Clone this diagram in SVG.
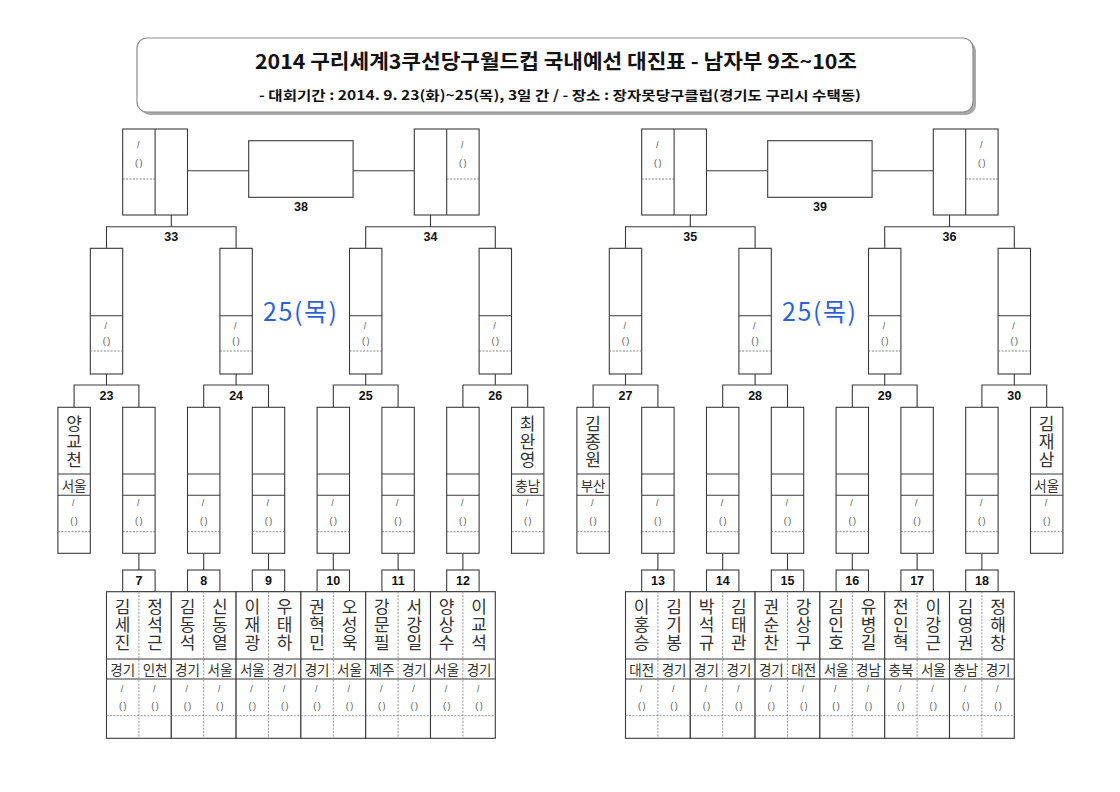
<svg xmlns="http://www.w3.org/2000/svg" width="1120" height="792" viewBox="0 0 1120 792">
<style>
.bx{fill:#fff;stroke:#3a3a3a;stroke-width:1.1}
.ln{fill:none;stroke:#3a3a3a;stroke-width:1.1}
.dl{fill:none;stroke:#666;stroke-width:0.8;stroke-dasharray:2 1.4}
.dv{fill:none;stroke:#777;stroke-width:0.8;stroke-dasharray:2 1.4}
.nm{font-family:"Noto Sans CJK KR","Noto Sans",sans-serif;font-size:17px;letter-spacing:1px;fill:#333;text-anchor:middle;dominant-baseline:central;writing-mode:vertical-rl}
.rg{font-family:"Noto Sans CJK KR","Noto Sans",sans-serif;font-size:13.5px;fill:#333;text-anchor:middle;dominant-baseline:central}
.sm{font-family:"Liberation Sans",sans-serif;font-size:9px;letter-spacing:1.5px;fill:#555;text-anchor:middle;dominant-baseline:central}
.lb{font-family:"Liberation Sans Narrow","Liberation Sans",sans-serif;font-weight:bold;font-size:12.5px;fill:#111;text-anchor:middle;dominant-baseline:central}
.day{font-family:"Noto Sans CJK KR","Noto Sans",sans-serif;font-size:25px;fill:#2d62d6;text-anchor:middle;dominant-baseline:central}
.ti{font-family:"Noto Sans CJK KR","Noto Sans",sans-serif;font-weight:bold;fill:#111;text-anchor:middle}
</style>
<rect width="1120" height="792" fill="#fff"/>

<g id="title">
<rect x="140" y="41" width="836" height="74" rx="10" fill="#a8a8a8"/>
<rect x="137" y="38" width="836" height="74" rx="10" fill="#fff" stroke="#8c8c8c" stroke-width="1.2"/>
<text class="ti" x="556" y="69" font-size="20" textLength="602" lengthAdjust="spacingAndGlyphs">2014 구리세계3쿠선당구월드컵 국내예선 대진표 - 남자부 9조~10조</text>
<text class="ti" x="560" y="100" font-size="13" textLength="602" lengthAdjust="spacingAndGlyphs">- 대회기간 : 2014. 9. 23(화)~25(목), 3일 간 / - 장소 : 장자못당구클럽(경기도 구리시 수택동)</text>
</g>

<g id="connectors">
<path class="ln" d="M187.5 170.7H248.7M353.1 170.7H414.3M706.5 170.7H767.7M872.1 170.7H933.3"/>
<path class="ln" d="M171.3 215V226.7M106.5 248.3V226.7H236.1V248.3M430.5 215V226.7M365.7 248.3V226.7H495.3V248.3"/>
<path class="ln" d="M690.3 215V226.7M625.5 248.3V226.7H755.1V248.3M949.5 215V226.7M884.7 248.3V226.7H1014.3V248.3"/>
<path class="ln" d="M106.5 374V385M74.1 407.3V385H138.9V407.3M236.1 374V385M203.7 407.3V385H268.5V407.3M365.7 374V385M333.3 407.3V385H398.1V407.3M495.3 374V385M462.9 407.3V385H527.7V407.3"/>
<path class="ln" d="M625.5 374V385M593.1 407.3V385H657.9V407.3M755.1 374V385M722.7 407.3V385H787.5V407.3M884.7 374V385M852.3 407.3V385H917.1V407.3M1014.3 374V385M981.9 407.3V385H1046.7V407.3"/>
<path class="ln" d="M138.9 553.3V570M203.7 553.3V570M268.5 553.3V570M333.3 553.3V570M398.1 553.3V570M462.9 553.3V570M657.9 553.3V570M722.7 553.3V570M787.5 553.3V570M852.3 553.3V570M917.1 553.3V570M981.9 553.3V570"/>
<text class="lb" x="300.9" y="206.5">38</text>
<text class="lb" x="819.9" y="206.5">39</text>
<text class="lb" x="171.3" y="237">33</text>
<text class="lb" x="430.5" y="237">34</text>
<text class="lb" x="690.3" y="237">35</text>
<text class="lb" x="949.5" y="237">36</text>
<text class="lb" x="106.5" y="396">23</text>
<text class="lb" x="236.1" y="396">24</text>
<text class="lb" x="365.7" y="396">25</text>
<text class="lb" x="495.3" y="396">26</text>
<text class="lb" x="625.5" y="396">27</text>
<text class="lb" x="755.1" y="396">28</text>
<text class="lb" x="884.7" y="396">29</text>
<text class="lb" x="1014.3" y="396">30</text>
</g>

<text class="day" x="300" y="310" textLength="74" lengthAdjust="spacing">25(목)</text>
<text class="day" x="819" y="310" textLength="74" lengthAdjust="spacing">25(목)</text>

<!-- finals -->
<g id="node-38"><rect class="bx" x="248.7" y="140.7" width="104.4" height="56.6"/></g>
<g id="node-39"><rect class="bx" x="767.7" y="140.7" width="104.4" height="56.6"/></g>

<!-- semi winners -->
<g id="node-33">
<rect class="bx" x="122.7" y="129" width="64.8" height="86"/>
<path class="ln" d="M155.1 129V215"/>
<path class="dl" d="M122.7 179H155.1"/>
<text class="sm" x="138.9" y="145">/</text><text class="sm" x="139.6" y="163">()</text>
</g>
<g id="node-34">
<rect class="bx" x="414.3" y="129" width="64.8" height="86"/>
<path class="ln" d="M446.7 129V215"/>
<path class="dl" d="M446.7 179H479.1"/>
<text class="sm" x="462.9" y="145">/</text><text class="sm" x="463.6" y="163">()</text>
</g>
<g id="node-35">
<rect class="bx" x="641.7" y="129" width="64.8" height="86"/>
<path class="ln" d="M674.1 129V215"/>
<path class="dl" d="M641.7 179H674.1"/>
<text class="sm" x="657.9" y="145">/</text><text class="sm" x="658.6" y="163">()</text>
</g>
<g id="node-36">
<rect class="bx" x="933.3" y="129" width="64.8" height="86"/>
<path class="ln" d="M965.7 129V215"/>
<path class="dl" d="M965.7 179H998.1"/>
<text class="sm" x="981.9" y="145">/</text><text class="sm" x="982.6" y="163">()</text>
</g>

<!-- round 2 boxes -->
<g id="node-23"><rect class="bx" x="90.3" y="248.3" width="32.4" height="125.7"/><path class="ln" d="M90.3 315.7H122.7"/><path class="dl" d="M90.3 351H122.7"/><text class="sm" x="106.5" y="325.7">/</text><text class="sm" x="107.2" y="341">()</text></g>
<g id="node-24"><rect class="bx" x="219.9" y="248.3" width="32.4" height="125.7"/><path class="ln" d="M219.9 315.7H252.3"/><path class="dl" d="M219.9 351H252.3"/><text class="sm" x="236.1" y="325.7">/</text><text class="sm" x="236.8" y="341">()</text></g>
<g id="node-25"><rect class="bx" x="349.5" y="248.3" width="32.4" height="125.7"/><path class="ln" d="M349.5 315.7H381.9"/><path class="dl" d="M349.5 351H381.9"/><text class="sm" x="365.7" y="325.7">/</text><text class="sm" x="366.4" y="341">()</text></g>
<g id="node-26"><rect class="bx" x="479.1" y="248.3" width="32.4" height="125.7"/><path class="ln" d="M479.1 315.7H511.5"/><path class="dl" d="M479.1 351H511.5"/><text class="sm" x="495.3" y="325.7">/</text><text class="sm" x="496" y="341">()</text></g>
<g id="node-27"><rect class="bx" x="609.3" y="248.3" width="32.4" height="125.7"/><path class="ln" d="M609.3 315.7H641.7"/><path class="dl" d="M609.3 351H641.7"/><text class="sm" x="625.5" y="325.7">/</text><text class="sm" x="626.2" y="341">()</text></g>
<g id="node-28"><rect class="bx" x="738.9" y="248.3" width="32.4" height="125.7"/><path class="ln" d="M738.9 315.7H771.3"/><path class="dl" d="M738.9 351H771.3"/><text class="sm" x="755.1" y="325.7">/</text><text class="sm" x="755.8" y="341">()</text></g>
<g id="node-29"><rect class="bx" x="868.5" y="248.3" width="32.4" height="125.7"/><path class="ln" d="M868.5 315.7H900.9"/><path class="dl" d="M868.5 351H900.9"/><text class="sm" x="884.7" y="325.7">/</text><text class="sm" x="885.4" y="341">()</text></g>
<g id="node-30"><rect class="bx" x="998.1" y="248.3" width="32.4" height="125.7"/><path class="ln" d="M998.1 315.7H1030.5"/><path class="dl" d="M998.1 351H1030.5"/><text class="sm" x="1014.3" y="325.7">/</text><text class="sm" x="1015" y="341">()</text></g>

<!-- round 3 boxes -->
<g id="seed-L1"><rect class="bx" x="57.9" y="407.3" width="32.4" height="146"/><path class="ln" d="M57.9 474H90.3M57.9 495.3H90.3"/><path class="dl" d="M57.9 531.7H90.3"/>
<text class="nm" x="74.1" y="442.5">양교천</text><text class="rg" x="74.1" y="484.7">서울</text>
<text class="sm" x="74.1" y="503">/</text><text class="sm" x="74.8" y="521">()</text></g>
<g id="r3-L2"><rect class="bx" x="122.7" y="407.3" width="32.4" height="146"/><path class="ln" d="M122.7 474H155.1M122.7 495.3H155.1"/><path class="dl" d="M122.7 531.7H155.1"/><text class="sm" x="138.9" y="503">/</text><text class="sm" x="139.6" y="521">()</text></g>
<g id="r3-L3"><rect class="bx" x="187.5" y="407.3" width="32.4" height="146"/><path class="ln" d="M187.5 474H219.9M187.5 495.3H219.9"/><path class="dl" d="M187.5 531.7H219.9"/><text class="sm" x="203.7" y="503">/</text><text class="sm" x="204.4" y="521">()</text></g>
<g id="r3-L4"><rect class="bx" x="252.3" y="407.3" width="32.4" height="146"/><path class="ln" d="M252.3 474H284.7M252.3 495.3H284.7"/><path class="dl" d="M252.3 531.7H284.7"/><text class="sm" x="268.5" y="503">/</text><text class="sm" x="269.2" y="521">()</text></g>
<g id="r3-L5"><rect class="bx" x="317.1" y="407.3" width="32.4" height="146"/><path class="ln" d="M317.1 474H349.5M317.1 495.3H349.5"/><path class="dl" d="M317.1 531.7H349.5"/><text class="sm" x="333.3" y="503">/</text><text class="sm" x="334" y="521">()</text></g>
<g id="r3-L6"><rect class="bx" x="381.9" y="407.3" width="32.4" height="146"/><path class="ln" d="M381.9 474H414.3M381.9 495.3H414.3"/><path class="dl" d="M381.9 531.7H414.3"/><text class="sm" x="398.1" y="503">/</text><text class="sm" x="398.8" y="521">()</text></g>
<g id="r3-L7"><rect class="bx" x="446.7" y="407.3" width="32.4" height="146"/><path class="ln" d="M446.7 474H479.1M446.7 495.3H479.1"/><path class="dl" d="M446.7 531.7H479.1"/><text class="sm" x="462.9" y="503">/</text><text class="sm" x="463.6" y="521">()</text></g>
<g id="seed-L8"><rect class="bx" x="511.5" y="407.3" width="32.4" height="146"/><path class="ln" d="M511.5 474H543.9M511.5 495.3H543.9"/><path class="dl" d="M511.5 531.7H543.9"/>
<text class="nm" x="527.7" y="442.5">최완영</text><text class="rg" x="527.7" y="484.7">충남</text>
<text class="sm" x="527.7" y="503">/</text><text class="sm" x="528.4" y="521">()</text></g>

<g id="seed-R1"><rect class="bx" x="576.9" y="407.3" width="32.4" height="146"/><path class="ln" d="M576.9 474H609.3M576.9 495.3H609.3"/><path class="dl" d="M576.9 531.7H609.3"/>
<text class="nm" x="593.1" y="442.5">김종원</text><text class="rg" x="593.1" y="484.7">부산</text>
<text class="sm" x="593.1" y="503">/</text><text class="sm" x="593.8" y="521">()</text></g>
<g id="r3-R2"><rect class="bx" x="641.7" y="407.3" width="32.4" height="146"/><path class="ln" d="M641.7 474H674.1M641.7 495.3H674.1"/><path class="dl" d="M641.7 531.7H674.1"/><text class="sm" x="657.9" y="503">/</text><text class="sm" x="658.6" y="521">()</text></g>
<g id="r3-R3"><rect class="bx" x="706.5" y="407.3" width="32.4" height="146"/><path class="ln" d="M706.5 474H738.9M706.5 495.3H738.9"/><path class="dl" d="M706.5 531.7H738.9"/><text class="sm" x="722.7" y="503">/</text><text class="sm" x="723.4" y="521">()</text></g>
<g id="r3-R4"><rect class="bx" x="771.3" y="407.3" width="32.4" height="146"/><path class="ln" d="M771.3 474H803.7M771.3 495.3H803.7"/><path class="dl" d="M771.3 531.7H803.7"/><text class="sm" x="787.5" y="503">/</text><text class="sm" x="788.2" y="521">()</text></g>
<g id="r3-R5"><rect class="bx" x="836.1" y="407.3" width="32.4" height="146"/><path class="ln" d="M836.1 474H868.5M836.1 495.3H868.5"/><path class="dl" d="M836.1 531.7H868.5"/><text class="sm" x="852.3" y="503">/</text><text class="sm" x="853" y="521">()</text></g>
<g id="r3-R6"><rect class="bx" x="900.9" y="407.3" width="32.4" height="146"/><path class="ln" d="M900.9 474H933.3M900.9 495.3H933.3"/><path class="dl" d="M900.9 531.7H933.3"/><text class="sm" x="917.1" y="503">/</text><text class="sm" x="917.8" y="521">()</text></g>
<g id="r3-R7"><rect class="bx" x="965.7" y="407.3" width="32.4" height="146"/><path class="ln" d="M965.7 474H998.1M965.7 495.3H998.1"/><path class="dl" d="M965.7 531.7H998.1"/><text class="sm" x="981.9" y="503">/</text><text class="sm" x="982.6" y="521">()</text></g>
<g id="seed-R8"><rect class="bx" x="1030.5" y="407.3" width="32.4" height="146"/><path class="ln" d="M1030.5 474H1062.9M1030.5 495.3H1062.9"/><path class="dl" d="M1030.5 531.7H1062.9"/>
<text class="nm" x="1046.7" y="442.5">김재삼</text><text class="rg" x="1046.7" y="484.7">서울</text>
<text class="sm" x="1046.7" y="503">/</text><text class="sm" x="1047.4" y="521">()</text></g>

<!-- first round matches -->
<g id="match-7">
<rect class="bx" x="122.7" y="570" width="32.4" height="21.7"/><text class="lb" x="138.9" y="581">7</text>
<rect class="bx" x="106.5" y="591.7" width="64.8" height="146.6"/>
<path class="ln" d="M106.5 659H171.3M106.5 679H171.3"/><path class="dv" d="M138.9 591.7V738.3M106.5 715.7H171.3"/>
<text class="nm" x="122.7" y="625.5">김세진</text><text class="nm" x="155.1" y="625.5">정석근</text>
<text class="rg" x="122.7" y="669">경기</text><text class="rg" x="155.1" y="669">인천</text>
<text class="sm" x="122.7" y="688.5">/</text><text class="sm" x="123.4" y="705.5">()</text><text class="sm" x="155.1" y="688.5">/</text><text class="sm" x="155.8" y="705.5">()</text>
</g>
<g id="match-8">
<rect class="bx" x="187.5" y="570" width="32.4" height="21.7"/><text class="lb" x="203.7" y="581">8</text>
<rect class="bx" x="171.3" y="591.7" width="64.8" height="146.6"/>
<path class="ln" d="M171.3 659H236.1M171.3 679H236.1"/><path class="dv" d="M203.7 591.7V738.3M171.3 715.7H236.1"/>
<text class="nm" x="187.5" y="625.5">김동석</text><text class="nm" x="219.9" y="625.5">신동열</text>
<text class="rg" x="187.5" y="669">경기</text><text class="rg" x="219.9" y="669">서울</text>
<text class="sm" x="187.5" y="688.5">/</text><text class="sm" x="188.2" y="705.5">()</text><text class="sm" x="219.9" y="688.5">/</text><text class="sm" x="220.6" y="705.5">()</text>
</g>
<g id="match-9">
<rect class="bx" x="252.3" y="570" width="32.4" height="21.7"/><text class="lb" x="268.5" y="581">9</text>
<rect class="bx" x="236.1" y="591.7" width="64.8" height="146.6"/>
<path class="ln" d="M236.1 659H300.9M236.1 679H300.9"/><path class="dv" d="M268.5 591.7V738.3M236.1 715.7H300.9"/>
<text class="nm" x="252.3" y="625.5">이재광</text><text class="nm" x="284.7" y="625.5">우태하</text>
<text class="rg" x="252.3" y="669">서울</text><text class="rg" x="284.7" y="669">경기</text>
<text class="sm" x="252.3" y="688.5">/</text><text class="sm" x="253" y="705.5">()</text><text class="sm" x="284.7" y="688.5">/</text><text class="sm" x="285.4" y="705.5">()</text>
</g>
<g id="match-10">
<rect class="bx" x="317.1" y="570" width="32.4" height="21.7"/><text class="lb" x="333.3" y="581">10</text>
<rect class="bx" x="300.9" y="591.7" width="64.8" height="146.6"/>
<path class="ln" d="M300.9 659H365.7M300.9 679H365.7"/><path class="dv" d="M333.3 591.7V738.3M300.9 715.7H365.7"/>
<text class="nm" x="317.1" y="625.5">권혁민</text><text class="nm" x="349.5" y="625.5">오성욱</text>
<text class="rg" x="317.1" y="669">경기</text><text class="rg" x="349.5" y="669">서울</text>
<text class="sm" x="317.1" y="688.5">/</text><text class="sm" x="317.8" y="705.5">()</text><text class="sm" x="349.5" y="688.5">/</text><text class="sm" x="350.2" y="705.5">()</text>
</g>
<g id="match-11">
<rect class="bx" x="381.9" y="570" width="32.4" height="21.7"/><text class="lb" x="398.1" y="581">11</text>
<rect class="bx" x="365.7" y="591.7" width="64.8" height="146.6"/>
<path class="ln" d="M365.7 659H430.5M365.7 679H430.5"/><path class="dv" d="M398.1 591.7V738.3M365.7 715.7H430.5"/>
<text class="nm" x="381.9" y="625.5">강문필</text><text class="nm" x="414.3" y="625.5">서강일</text>
<text class="rg" x="381.9" y="669">제주</text><text class="rg" x="414.3" y="669">경기</text>
<text class="sm" x="381.9" y="688.5">/</text><text class="sm" x="382.6" y="705.5">()</text><text class="sm" x="414.3" y="688.5">/</text><text class="sm" x="415" y="705.5">()</text>
</g>
<g id="match-12">
<rect class="bx" x="446.7" y="570" width="32.4" height="21.7"/><text class="lb" x="462.9" y="581">12</text>
<rect class="bx" x="430.5" y="591.7" width="64.8" height="146.6"/>
<path class="ln" d="M430.5 659H495.3M430.5 679H495.3"/><path class="dv" d="M462.9 591.7V738.3M430.5 715.7H495.3"/>
<text class="nm" x="446.7" y="625.5">양상수</text><text class="nm" x="479.1" y="625.5">이교석</text>
<text class="rg" x="446.7" y="669">서울</text><text class="rg" x="479.1" y="669">경기</text>
<text class="sm" x="446.7" y="688.5">/</text><text class="sm" x="447.4" y="705.5">()</text><text class="sm" x="479.1" y="688.5">/</text><text class="sm" x="479.8" y="705.5">()</text>
</g>

<g id="match-13">
<rect class="bx" x="641.7" y="570" width="32.4" height="21.7"/><text class="lb" x="657.9" y="581">13</text>
<rect class="bx" x="625.5" y="591.7" width="64.8" height="146.6"/>
<path class="ln" d="M625.5 659H690.3M625.5 679H690.3"/><path class="dv" d="M657.9 591.7V738.3M625.5 715.7H690.3"/>
<text class="nm" x="641.7" y="625.5">이홍승</text><text class="nm" x="674.1" y="625.5">김기봉</text>
<text class="rg" x="641.7" y="669">대전</text><text class="rg" x="674.1" y="669">경기</text>
<text class="sm" x="641.7" y="688.5">/</text><text class="sm" x="642.4" y="705.5">()</text><text class="sm" x="674.1" y="688.5">/</text><text class="sm" x="674.8" y="705.5">()</text>
</g>
<g id="match-14">
<rect class="bx" x="706.5" y="570" width="32.4" height="21.7"/><text class="lb" x="722.7" y="581">14</text>
<rect class="bx" x="690.3" y="591.7" width="64.8" height="146.6"/>
<path class="ln" d="M690.3 659H755.1M690.3 679H755.1"/><path class="dv" d="M722.7 591.7V738.3M690.3 715.7H755.1"/>
<text class="nm" x="706.5" y="625.5">박석규</text><text class="nm" x="738.9" y="625.5">김태관</text>
<text class="rg" x="706.5" y="669">경기</text><text class="rg" x="738.9" y="669">경기</text>
<text class="sm" x="706.5" y="688.5">/</text><text class="sm" x="707.2" y="705.5">()</text><text class="sm" x="738.9" y="688.5">/</text><text class="sm" x="739.6" y="705.5">()</text>
</g>
<g id="match-15">
<rect class="bx" x="771.3" y="570" width="32.4" height="21.7"/><text class="lb" x="787.5" y="581">15</text>
<rect class="bx" x="755.1" y="591.7" width="64.8" height="146.6"/>
<path class="ln" d="M755.1 659H819.9M755.1 679H819.9"/><path class="dv" d="M787.5 591.7V738.3M755.1 715.7H819.9"/>
<text class="nm" x="771.3" y="625.5">권순찬</text><text class="nm" x="803.7" y="625.5">강상구</text>
<text class="rg" x="771.3" y="669">경기</text><text class="rg" x="803.7" y="669">대전</text>
<text class="sm" x="771.3" y="688.5">/</text><text class="sm" x="772" y="705.5">()</text><text class="sm" x="803.7" y="688.5">/</text><text class="sm" x="804.4" y="705.5">()</text>
</g>
<g id="match-16">
<rect class="bx" x="836.1" y="570" width="32.4" height="21.7"/><text class="lb" x="852.3" y="581">16</text>
<rect class="bx" x="819.9" y="591.7" width="64.8" height="146.6"/>
<path class="ln" d="M819.9 659H884.7M819.9 679H884.7"/><path class="dv" d="M852.3 591.7V738.3M819.9 715.7H884.7"/>
<text class="nm" x="836.1" y="625.5">김인호</text><text class="nm" x="868.5" y="625.5">유병길</text>
<text class="rg" x="836.1" y="669">서울</text><text class="rg" x="868.5" y="669">경남</text>
<text class="sm" x="836.1" y="688.5">/</text><text class="sm" x="836.8" y="705.5">()</text><text class="sm" x="868.5" y="688.5">/</text><text class="sm" x="869.2" y="705.5">()</text>
</g>
<g id="match-17">
<rect class="bx" x="900.9" y="570" width="32.4" height="21.7"/><text class="lb" x="917.1" y="581">17</text>
<rect class="bx" x="884.7" y="591.7" width="64.8" height="146.6"/>
<path class="ln" d="M884.7 659H949.5M884.7 679H949.5"/><path class="dv" d="M917.1 591.7V738.3M884.7 715.7H949.5"/>
<text class="nm" x="900.9" y="625.5">전인혁</text><text class="nm" x="933.3" y="625.5">이강근</text>
<text class="rg" x="900.9" y="669">충북</text><text class="rg" x="933.3" y="669">서울</text>
<text class="sm" x="900.9" y="688.5">/</text><text class="sm" x="901.6" y="705.5">()</text><text class="sm" x="933.3" y="688.5">/</text><text class="sm" x="934" y="705.5">()</text>
</g>
<g id="match-18">
<rect class="bx" x="965.7" y="570" width="32.4" height="21.7"/><text class="lb" x="981.9" y="581">18</text>
<rect class="bx" x="949.5" y="591.7" width="64.8" height="146.6"/>
<path class="ln" d="M949.5 659H1014.3M949.5 679H1014.3"/><path class="dv" d="M981.9 591.7V738.3M949.5 715.7H1014.3"/>
<text class="nm" x="965.7" y="625.5">김영권</text><text class="nm" x="998.1" y="625.5">정해창</text>
<text class="rg" x="965.7" y="669">충남</text><text class="rg" x="998.1" y="669">경기</text>
<text class="sm" x="965.7" y="688.5">/</text><text class="sm" x="966.4" y="705.5">()</text><text class="sm" x="998.1" y="688.5">/</text><text class="sm" x="998.8" y="705.5">()</text>
</g>
</svg>
